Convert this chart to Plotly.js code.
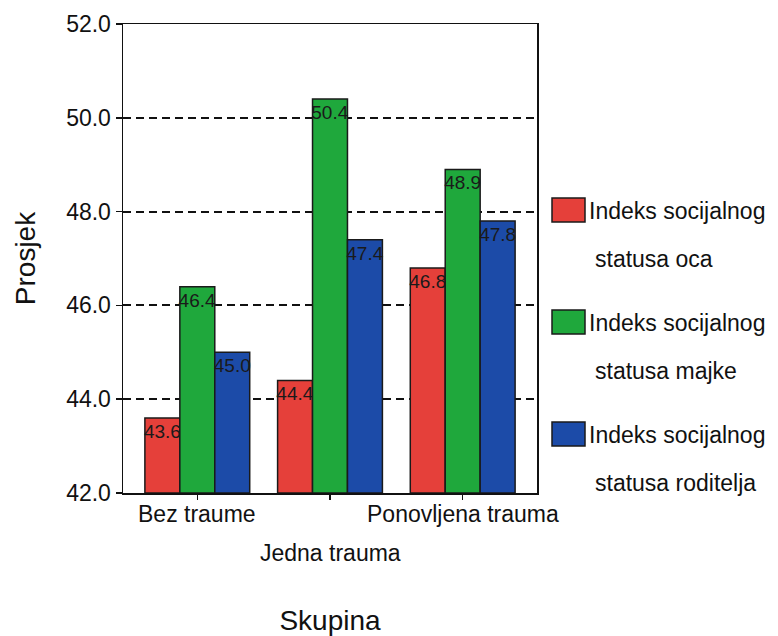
<!DOCTYPE html>
<html>
<head>
<meta charset="utf-8">
<script src="https://cdn.plot.ly/plotly-3.0.1.min.js"></script>
<style>html,body{margin:0;padding:0;background:#fff;}</style>
</head>
<body>
<div id="chart" style="width:778px;height:636px;"></div>
<script>
// ---- data ----
const categories = ['Bez traume', 'Jedna trauma', 'Ponovljena trauma'];
const seriesNames = ['Indeks socijalnog statusa oca', 'Indeks socijalnog statusa majke', 'Indeks socijalnog statusa roditelja'];
const legendLine1 = ['Indeks socijalnog', 'Indeks socijalnog', 'Indeks socijalnog'];
const legendLine2 = ['statusa oca', 'statusa majke', 'statusa roditelja'];
const otacValues = [43.6, 44.4, 46.8];
const majkaValues = [46.4, 50.4, 48.9];
const roditeljiValues = [45.0, 47.4, 47.8];
const yTickValues = [42, 44, 46, 48, 50, 52];
const yTickLabels = ['42.0', '44.0', '46.0', '48.0', '50.0', '52.0'];

const colors = ['#e5403a', '#1fa83c', '#1c4ba8'];
const allValues = [otacValues, majkaValues, roditeljiValues];
const FONT = 'Liberation Sans, Arial, Helvetica, sans-serif';
const AXIS_MIN = 42;

const traces = allValues.map((vals, i) => ({
  type: 'bar',
  name: seriesNames[i],
  x: categories,
  y: vals.map(v => v - AXIS_MIN),
  base: AXIS_MIN,
  text: vals.map(v => v.toFixed(1)),
  textposition: 'inside',
  insidetextanchor: 'end',
  textangle: 0,
  constraintext: 'none',
  textfont: {family: FONT, size: 19, color: '#1a1a1a'},
  marker: {color: colors[i], line: {color: '#1a1a1a', width: 1.5}},
  hoverinfo: 'skip'
}));

const annotations = [];
// staggered category labels
categories.forEach((c, i) => {
  annotations.push({
    xref: 'x', yref: 'paper', x: c, y: 0, yanchor: 'middle',
    yshift: (i % 2 === 0) ? -21 : -60,
    text: c, showarrow: false,
    font: {family: FONT, size: 23, color: '#111'}
  });
});

// manual legend
const shapes = [];
const plotL = 123, plotR = 537, plotT = 24, plotB = 493;
const px2x = p => (p - plotL) / (plotR - plotL);
const px2y = p => (plotB - p) / (plotB - plotT);
const entryTop = [198, 310, 422];
seriesNames.forEach((n, i) => {
  const top = entryTop[i];
  shapes.push({
    type: 'rect', xref: 'paper', yref: 'paper',
    x0: px2x(552), x1: px2x(585), y0: px2y(top + 24), y1: px2y(top),
    fillcolor: colors[i], line: {color: '#1a1a1a', width: 1.5}
  });
  annotations.push({
    xref: 'paper', yref: 'paper', x: px2x(587), y: px2y(top + 13),
    xanchor: 'left', yanchor: 'middle', text: legendLine1[i], showarrow: false,
    font: {family: FONT, size: 23, color: '#111'}
  });
  annotations.push({
    xref: 'paper', yref: 'paper', x: px2x(593), y: px2y(top + 61),
    xanchor: 'left', yanchor: 'middle', text: legendLine2[i], showarrow: false,
    font: {family: FONT, size: 23, color: '#111'}
  });
});

const layout = {
  width: 778, height: 636,
  margin: {l: plotL, r: 778 - plotR, t: plotT, b: 636 - plotB},
  paper_bgcolor: '#fff', plot_bgcolor: '#fff',
  showlegend: false,
  barmode: 'group', bargap: 0.21, bargroupgap: 0,
  font: {family: FONT, color: '#111'},
  xaxis: {
    type: 'category', range: [-0.56, 2.56],
    showticklabels: false, ticks: 'outside', ticklen: 5, tickwidth: 1.5, tickcolor: '#111',
    showline: true, linecolor: '#111', linewidth: 1.5, mirror: true,
    showgrid: false, zeroline: false,
    title: {text: 'Skupina', font: {family: FONT, size: 28, color: '#111'}, standoff: 112},
    fixedrange: true
  },
  yaxis: {
    range: [42, 52],
    tickvals: yTickValues, ticktext: yTickLabels,
    ticks: 'outside', ticklen: 6, tickwidth: 1.5, tickcolor: '#111',
    tickfont: {family: FONT, size: 23, color: '#111'},
    showline: true, linecolor: '#111', linewidth: 1.5, mirror: true,
    showgrid: true, gridcolor: '#111', gridwidth: 2, griddash: '8px,5px',
    zeroline: false,
    title: {text: 'Prosjek', font: {family: FONT, size: 28, color: '#111'}, standoff: 22},
    fixedrange: true
  },
  annotations: annotations,
  shapes: shapes
};

Plotly.newPlot('chart', traces, layout, {displayModeBar: false, staticPlot: true});
</script>
</body>
</html>
